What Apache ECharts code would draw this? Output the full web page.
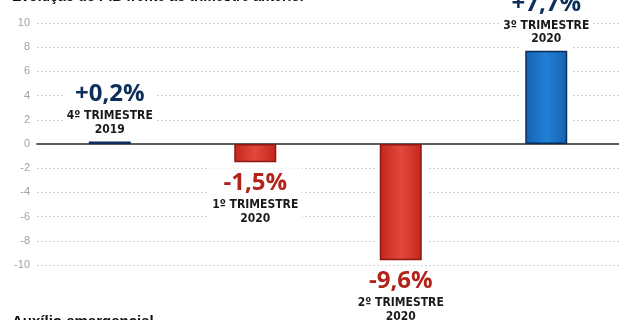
<!DOCTYPE html>
<html>
<head>
<meta charset="utf-8">
<script src="https://cdn.jsdelivr.net/npm/echarts@6/dist/echarts.min.js"></script>
<style>
  html, body { margin: 0; padding: 0; background: #fff; }
  #chart { width: 619px; height: 320px; }
</style>
</head>
<body>
<div id="chart"></div>
<script>
// Variação trimestral do PIB (%)
const quarterNames = ['4º TRIMESTRE', '1º TRIMESTRE', '2º TRIMESTRE', '3º TRIMESTRE'];
const quarterYears = ['2019', '2020', '2020', '2020'];
const gdpChange = [0.2, -1.5, -9.6, 7.7];

const AXIS_MIN = -10, AXIS_MAX = 10, AXIS_STEP = 2;

const narrow = '"Liberation Sans Narrow", "DejaVu Sans Condensed", sans-serif';
const bigFont = '"Open Sans", "DejaVu Sans", sans-serif';

function pct(v) {
  return (v > 0 ? '+' : '') + v.toFixed(1).replace('.', ',') + '%';
}

function barFill(v) {
  const stops = v >= 0
    ? ['#1562b0', '#2180d6', '#1562b0']
    : ['#c4261c', '#e3473b', '#c4261c'];
  return new echarts.graphic.LinearGradient(0, 0, 1, 0, [
    { offset: 0, color: stops[0] },
    { offset: 0.5, color: stops[1] },
    { offset: 1, color: stops[2] }
  ]);
}

const chart = echarts.init(document.getElementById('chart'), null, { renderer: 'canvas' });

chart.setOption({
  animation: false,
  backgroundColor: '#fff',
  grid: { left: 37, width: 583, top: 23, height: 242 },
  xAxis: {
    type: 'category',
    data: quarterNames,
    axisTick: { show: false },
    axisLabel: { show: false },
    axisLine: { onZero: true, lineStyle: { color: '#5e5e5e', width: 2 } },
    splitLine: { show: false }
  },
  yAxis: {
    type: 'value',
    min: AXIS_MIN,
    max: AXIS_MAX,
    interval: AXIS_STEP,
    axisLine: { show: false },
    axisTick: { show: false },
    axisLabel: {
      margin: 7,
      color: '#a3a3a3',
      fontSize: 11,
      fontFamily: '"Liberation Sans", sans-serif'
    },
    splitLine: { lineStyle: { color: '#cdcdcd', width: 1, type: [2, 2] } }
  },
  graphic: [
    {
      type: 'text', x: 12, y: 4,
      style: {
        text: 'Evolução do PIB frente ao trimestre anterior',
        font: 'bold 14px "Liberation Sans", sans-serif',
        fill: '#111', verticalAlign: 'bottom'
      }
    },
    {
      type: 'text', x: 12, y: 314,
      style: {
        text: 'Auxílio emergencial',
        font: 'bold 15px "Liberation Sans", sans-serif',
        fill: '#111', verticalAlign: 'top'
      }
    }
  ],
  series: [
    {
      // white clearance behind each bar, interrupting the dotted grid
      type: 'custom',
      z: 1,
      silent: true,
      data: gdpChange.map((v, i) => [i, v]),
      renderItem: function (params, api) {
        const i = api.value(0), v = api.value(1);
        const p0 = api.coord([i, 0]);
        const p1 = api.coord([i, v]);
        let y0, y1;
        if (v >= 0) { y0 = p1[1] - 5; y1 = p0[1] - 2; }
        else { y0 = p0[1] + 2; y1 = p1[1] + 5; }
        return {
          type: 'rect',
          shape: { x: p0[0] - 26, y: y0, width: 52, height: Math.max(0, y1 - y0) },
          style: { fill: '#fff' }
        };
      }
    },
    {
      type: 'bar',
      z: 3,
      barWidth: 42,
      data: gdpChange.map(v => ({
        value: v,
        itemStyle: {
          color: barFill(v),
          borderColor: v >= 0 ? '#0a2c58' : '#8c1a12',
          borderWidth: 1.5
        },
        label: {
          position: v >= 0 ? 'top' : 'bottom',
          distance: v >= 0 ? 5 : 6
        }
      })),
      label: {
        show: true,
        backgroundColor: '#fff',
        padding: [0, 4],
        formatter: function (p) {
          const key = p.value >= 0 ? 'vp' : 'vn';
          return '{' + key + '|' + pct(p.value) + '}\n{t|' + p.name + '}\n{t|' + quarterYears[p.dataIndex] + '}';
        },
        rich: {
          vp: { fontFamily: bigFont, fontWeight: 'bold', fontSize: 24, lineHeight: 30, color: '#0d2f5c', align: 'center' },
          vn: { fontFamily: bigFont, fontWeight: 'bold', fontSize: 24, lineHeight: 30, color: '#b3231a', align: 'center' },
          t: { fontFamily: narrow, fontWeight: 'bold', fontSize: 12, lineHeight: 13.5, color: '#1a1a1a', align: 'center' }
        }
      }
    }
  ]
});
</script>
</body>
</html>
